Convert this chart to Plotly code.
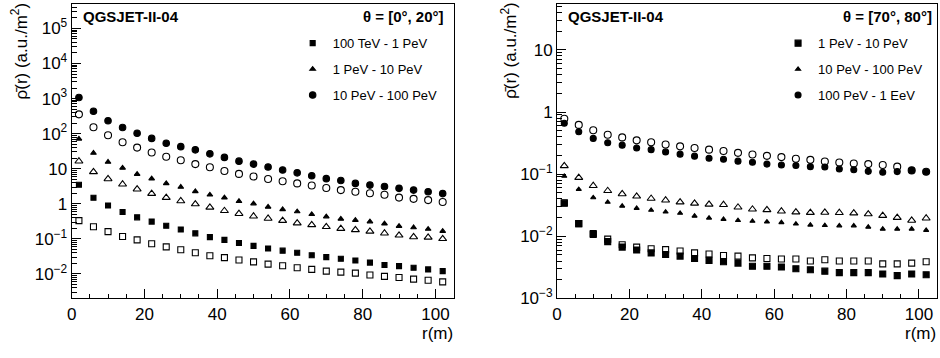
import plotly.graph_objects as go

# ---------------- data ----------------
r_m = [2, 6, 10, 14, 18, 22, 26, 30, 34, 38, 42, 46, 50, 54, 58, 62, 66, 70, 74, 78, 82, 86, 90, 94, 98, 102]

# left panel: theta = [0, 20] deg
left_labels = ["100 TeV - 1 PeV", "1 PeV - 10 PeV", "10 PeV - 100 PeV"]
left_sq_filled = [3.5, 1.49, 0.89, 0.58, 0.41, 0.31, 0.235, 0.185, 0.143, 0.112, 0.093, 0.076, 0.063, 0.053,
                  0.046, 0.040, 0.034, 0.030, 0.027, 0.024, 0.021, 0.018, 0.0166, 0.015, 0.0134, 0.012]
left_sq_open = [0.33, 0.22, 0.16, 0.117, 0.093, 0.072, 0.059, 0.049, 0.040, 0.033, 0.029, 0.025, 0.022, 0.019,
                0.017, 0.015, 0.0134, 0.012, 0.0112, 0.0105, 0.0093, 0.0085, 0.0079, 0.0071, 0.0066, 0.0059]
left_tri_filled = [71, 28, 15.5, 10.5, 7.0, 5.2, 3.8, 3.0, 2.25, 1.8, 1.49, 1.18, 1.01, 0.81,
                   0.69, 0.60, 0.50, 0.43, 0.37, 0.34, 0.31, 0.27, 0.23, 0.21, 0.19, 0.165]
left_tri_open = [16.3, 8.1, 5.1, 3.6, 2.6, 1.95, 1.5, 1.2, 0.98, 0.79, 0.63, 0.52, 0.44, 0.38,
                 0.33, 0.28, 0.25, 0.22, 0.195, 0.18, 0.163, 0.144, 0.126, 0.113, 0.11, 0.10]
left_circ_filled = [1070, 435, 233, 149, 102, 73, 53, 42.5, 34.5, 26.5, 21, 16.4, 13.5, 11.2,
                    9.2, 7.6, 6.3, 5.2, 4.6, 3.8, 3.4, 3.1, 2.75, 2.45, 2.2, 1.95]
left_circ_open = [355, 152, 90, 57, 40, 29, 22, 17.4, 13.5, 11, 8.6, 7.1, 6.0, 5.1,
                  4.4, 3.8, 3.3, 2.8, 2.45, 2.2, 2.0, 1.8, 1.5, 1.38, 1.27, 1.12]

# right panel: theta = [70, 80] deg
right_labels = ["1 PeV - 10 PeV", "10 PeV - 100 PeV", "100 PeV - 1 EeV"]
right_sq_filled = [0.034, 0.016, 0.0107, 0.0082, 0.0067, 0.0060, 0.0054, 0.0051, 0.0048, 0.0044, 0.0041, 0.0039,
                   0.0037, 0.0033, 0.0033, 0.0032, 0.0030, 0.0029, 0.00275, 0.0026, 0.0026, 0.0026, 0.00247,
                   0.00233, 0.00247, 0.0024]
right_sq_open = [0.0347, 0.016, 0.0111, 0.0090, 0.0073, 0.0067, 0.0063, 0.0061, 0.0058, 0.0054, 0.0052, 0.0049,
                 0.0048, 0.0045, 0.0044, 0.0043, 0.0043, 0.0040, 0.0042, 0.0040, 0.0040, 0.0040, 0.0036,
                 0.0036, 0.0037, 0.0039]
right_tri_filled = [0.093, 0.057, 0.042, 0.0354, 0.0307, 0.0283, 0.0263, 0.0247, 0.0236, 0.0212, 0.0197, 0.0188,
                    0.018, 0.0175, 0.0171, 0.0167, 0.0158, 0.0152, 0.015, 0.0148, 0.0148, 0.0141, 0.0131,
                    0.0131, 0.0131, 0.0125]
right_tri_open = [0.136, 0.088, 0.065, 0.054, 0.048, 0.044, 0.0405, 0.038, 0.0355, 0.0338, 0.0326, 0.0322,
                  0.0293, 0.0272, 0.0266, 0.0253, 0.0245, 0.024, 0.0242, 0.0239, 0.0236, 0.0228, 0.0215,
                  0.020, 0.018, 0.0195]
right_circ_filled = [0.66, 0.48, 0.376, 0.32, 0.293, 0.263, 0.248, 0.228, 0.21, 0.195, 0.18, 0.174,
                     0.162, 0.155, 0.145, 0.14, 0.138, 0.132, 0.13, 0.121, 0.118, 0.111, 0.107,
                     0.110, 0.115, 0.109]
right_circ_open = [0.78, 0.62, 0.51, 0.43, 0.39, 0.35, 0.326, 0.30, 0.28, 0.263, 0.248, 0.236,
                   0.22, 0.207, 0.197, 0.188, 0.177, 0.17, 0.16, 0.154, 0.148, 0.145, 0.14,
                   0.132, 0.115, 0.109]

x_ticks = [0, 20, 40, 60, 80, 100]
left_y_ticks = [1e-2, 1e-1, 1, 10, 1e2, 1e3, 1e4, 1e5]
left_y_text = ["10<sup>−2</sup>", "10<sup>−1</sup>", "1", "10", "10<sup>2</sup>", "10<sup>3</sup>",
               "10<sup>4</sup>", "10<sup>5</sup>"]
right_y_ticks = [1e-3, 1e-2, 1e-1, 1, 10]
right_y_text = ["10<sup>−3</sup>", "10<sup>−2</sup>", "10<sup>−1</sup>", "1", "10"]

# ---------------- figure ----------------
W, H = 940, 358
FONT = "Liberation Sans, Arial, Helvetica, sans-serif"
BLACK = "#000000"

def fx(p):
    return p / W

def fy(p):
    return 1 - p / H

fig = go.Figure()

def add(y, sym, size, name, show, xa, ya, legend, group):
    fig.add_trace(go.Scatter(
        x=r_m, y=y, mode="markers", name=name, showlegend=show,
        xaxis=xa, yaxis=ya, legend=legend, legendgroup=group,
        marker=dict(symbol=sym, size=size, color=BLACK,
                    line=dict(color=BLACK, width=1.1)),
    ))

# left panel
add(left_sq_filled, "square", 5, left_labels[0], True, "x", "y", "legend", "l1")
add(left_tri_filled, "triangle-up", 5, left_labels[1], True, "x", "y", "legend", "l2")
add(left_circ_filled, "circle", 6.5, left_labels[2], True, "x", "y", "legend", "l3")
add(left_sq_open, "square-open", 6, "o1", False, "x", "y", "legend", "l1")
add(left_tri_open, "triangle-up-open", 7, "o2", False, "x", "y", "legend", "l2")
add(left_circ_open, "circle-open", 7, "o3", False, "x", "y", "legend", "l3")

# right panel
add(right_sq_filled, "square", 6, right_labels[0], True, "x2", "y2", "legend2", "r1")
add(right_tri_filled, "triangle-up", 4.5, right_labels[1], True, "x2", "y2", "legend2", "r2")
add(right_circ_filled, "circle", 6, right_labels[2], True, "x2", "y2", "legend2", "r3")
add(right_sq_open, "square-open", 6, "o4", False, "x2", "y2", "legend2", "r1")
add(right_tri_open, "triangle-up-open", 7, "o5", False, "x2", "y2", "legend2", "r2")
add(right_circ_open, "circle-open", 7, "o6", False, "x2", "y2", "legend2", "r3")

minor_log = [m * 10.0 ** k for k in range(-4, 7) for m in range(2, 10)]

common = dict(
    ticks="inside", ticklen=9, tickwidth=1, tickcolor=BLACK,
    showline=True, linecolor=BLACK, linewidth=1, mirror=True,
    showgrid=False, zeroline=False,
    tickfont=dict(family=FONT, size=17, color=BLACK),
)

xcommon = dict(common, range=[0, 105], tickmode="array", tickvals=x_ticks, ticklabelstandoff=0,
               minor=dict(ticks="inside", ticklen=4, tickcolor=BLACK, dtick=5, tick0=0, showgrid=False))

ydom = [fy(307), fy(4)]

fig.update_layout(
    width=W, height=H,
    margin=dict(l=0, r=0, t=0, b=0),
    paper_bgcolor="white", plot_bgcolor="white",
    font=dict(family=FONT, color=BLACK),
    xaxis=dict(xcommon, domain=[fx(67), fx(451)], anchor="y"),
    yaxis=dict(common, type="log", range=[-2.7, 5.7], domain=ydom, anchor="x",
               tickmode="array", tickvals=left_y_ticks, ticktext=left_y_text,
               minor=dict(ticks="inside", ticklen=5, tickcolor=BLACK, tickmode="array",
                          tickvals=minor_log, showgrid=False)),
    xaxis2=dict(xcommon, domain=[fx(555), fx(937)], anchor="y2"),
    yaxis2=dict(common, type="log", range=[-3, 1.74], domain=ydom, anchor="x2",
                tickmode="array", tickvals=right_y_ticks, ticktext=right_y_text,
                minor=dict(ticks="inside", ticklen=5, tickcolor=BLACK, tickmode="array",
                           tickvals=minor_log, showgrid=False)),
    legend=dict(x=fx(440), y=fy(29), xanchor="right", yanchor="top",
                bgcolor="rgba(0,0,0,0)", font=dict(family=FONT, size=13, color=BLACK),
                tracegroupgap=6, traceorder="grouped", itemsizing="trace"),
    legend2=dict(x=fx(928), y=fy(29), xanchor="right", yanchor="top",
                 bgcolor="rgba(0,0,0,0)", font=dict(family=FONT, size=13, color=BLACK),
                 tracegroupgap=6, traceorder="grouped", itemsizing="trace"),
)

ann = []
def text(x, y, s, size, xanchor="left", yanchor="middle", angle=0, bold=False):
    ann.append(dict(x=fx(x), y=fy(y), xref="paper", yref="paper", text=(f"<b>{s}</b>" if bold else s),
                    showarrow=False, xanchor=xanchor, yanchor=yanchor, textangle=angle,
                    font=dict(family=FONT, size=size, color=BLACK)))

text(76, 17, "QGSJET-II-04", 15, bold=True)
text(443, 17, "θ = [0°, 20°]", 15, xanchor="right", bold=True)
text(564, 17, "QGSJET-II-04", 15, bold=True)
text(934, 17, "θ = [70°, 80°]", 15, xanchor="right", bold=True)
text(452, 343, "r(m)", 17, xanchor="right")
text(938, 343, "r(m)", 17, xanchor="right")
text(14, 0, "ρ̄(r) (a.u./m<sup>2</sup>)", 17, xanchor="center", yanchor="top", angle=-90)
text(506, 0, "ρ̄(r) (a.u./m<sup>2</sup>)", 17, xanchor="center", yanchor="top", angle=-90)
fig.update_layout(annotations=ann)

fig.write_html("out.html", config={"displayModeBar": False},
               post_script="document.body.style.margin='0';document.body.style.overflow='hidden';")
